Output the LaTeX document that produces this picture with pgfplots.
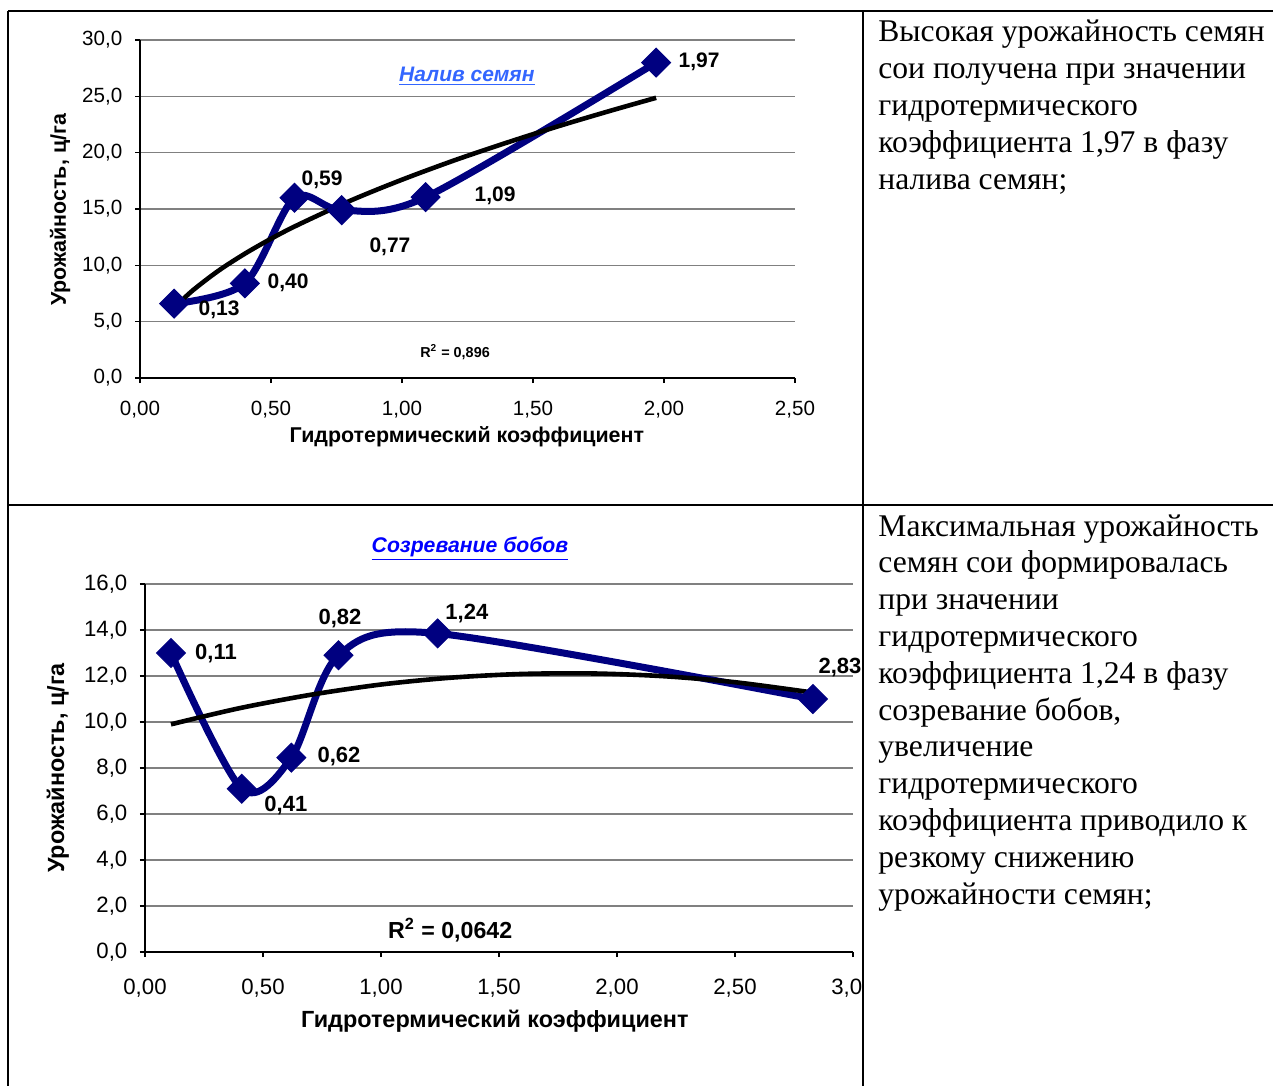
\documentclass[border=0pt]{standalone}
\usepackage{fontspec}
\setmainfont{Liberation Serif}
\newfontfamily\arial{Liberation Sans}
\usepackage{pgfplots}
\pgfplotsset{compat=1.18}
\definecolor{navy}{RGB}{0,0,128}
\definecolor{tonebl}{RGB}{51,102,255}
\definecolor{ttwobl}{RGB}{0,0,255}
\definecolor{gridgray}{RGB}{128,128,128}
\newcommand{\labfont}{\arial\bfseries\fontsize{10.7}{13}\selectfont}
\newcommand{\labfontb}{\arial\bfseries\fontsize{11.7}{13}\selectfont}
\pgfplotsset{excel/.style={
  scale only axis, clip=false,
  axis lines=left, axis line style={-, black, line width=0.75pt},
  ymajorgrids, grid style={gridgray, line width=0.6pt},
  tick align=outside, major tick length=2.5pt, tick style={black, line width=0.75pt},
  /pgf/number format/assume math mode=true,
  tick label style={font=\arial\fontsize{10.3}{12}\selectfont},
  yticklabel style={/pgf/number format/.cd, fixed, fixed zerofill, precision=1, use comma, 1000 sep={}, /tikz/.cd, xshift=-2.8pt},
  xticklabel style={/pgf/number format/.cd, fixed, fixed zerofill, precision=2, use comma, 1000 sep={}, /tikz/.cd, yshift=-5.5pt},
}}
\newcommand{\rtext}{\fontsize{15.8}{18.4}\selectfont}
\begin{document}
\begin{tikzpicture}
\useasboundingbox (0,0) rectangle (636.5pt,-543pt);
% ---------- chart 1 ----------
\begin{axis}[excel, at={(70pt,-189pt)}, anchor=south west, width=327.5pt, height=169pt,
  xmin=0, xmax=2.5, ymin=0, ymax=30,
  xtick={0,0.5,1,1.5,2,2.5}, ytick={0,5,10,15,20,25,30},
  xlabel={Гидротермический коэффициент}, ylabel={Урожайность, ц/га},
  every axis x label/.style={at={(axis description cs:0.499,-0.175)}, anchor=center, font=\labfont},
  every axis y label/.style={at={(axis description cs:-0.122,0.497)}, rotate=90, anchor=center, font=\labfont}]
\addplot[navy, line width=3.5pt, smooth, mark=square*, mark size=5.1pt,
  mark options={rotate=45, solid, fill=navy, draw=navy, line width=0.5pt}]
  coordinates {(0.13,6.6)(0.40,8.4)(0.59,16.0)(0.77,14.9)(1.09,16.05)(1.97,28.0)};
\addplot[black, line width=2.3pt, smooth]
  coordinates {(0.13,6.22)(0.2,7.75)(0.3,9.53)(0.4,11.03)(0.5,12.36)(0.6,13.56)(0.8,15.71)(1.0,17.6)(1.2,19.32)(1.4,20.89)(1.6,22.37)(1.8,23.75)(1.97,24.87)};
\begin{scope}[font=\arial\bfseries\fontsize{10.5}{12}\selectfont]
\node at (axis cs:2.134,28.05) {1,97};
\node at (axis cs:0.695,17.57) {0,59};
\node at (axis cs:1.355,16.15) {1,09};
\node at (axis cs:0.954,11.63) {0,77};
\node at (axis cs:0.565,8.43) {0,40};
\node at (axis cs:0.302,6.04) {0,13};
\end{scope}
\node[font=\arial\bfseries\itshape\fontsize{10.5}{12}\selectfont, text=tonebl] at (axis description cs:0.499,0.893) {\underline{Налив семян}};
\node[font=\arial\bfseries\fontsize{7.2}{8}\selectfont] at (axis description cs:0.481,0.077) {R\textsuperscript{2} = 0,896};
\end{axis}
% ---------- chart 2 ----------
\begin{scope}
\clip (0,0) rectangle (431pt,-543pt);
\begin{axis}[excel, at={(72.5pt,-476pt)}, anchor=south west, width=354pt, height=184pt,
  xmin=0, xmax=3, ymin=0, ymax=16,
  xtick={0,0.5,1,1.5,2,2.5,3}, ytick={0,2,4,6,8,10,12,14,16},
  tick label style={font=\arial\fontsize{11.1}{13}\selectfont},
  xticklabel style={yshift=-2pt},
  xlabel={Гидротермический коэффициент}, ylabel={Урожайность, ц/га},
  every axis x label/.style={at={(axis description cs:0.494,-0.1875)}, anchor=center, font=\labfontb},
  every axis y label/.style={at={(axis description cs:-0.123,0.5)}, rotate=90, anchor=center, font=\labfontb}]
\addplot[navy, line width=3.5pt, smooth, mark=square*, mark size=5.1pt,
  mark options={rotate=45, solid, fill=navy, draw=navy, line width=0.5pt}]
  coordinates {(0.11,13.0)(0.41,7.1)(0.62,8.45)(0.82,12.9)(1.24,13.85)(2.83,11.0)};
\addplot[black, line width=2.3pt, smooth]
  coordinates {(0.11,9.9)(0.4,10.6)(0.7,11.18)(1.0,11.63)(1.3,11.93)(1.6,12.09)(1.9,12.11)(2.2,11.99)(2.5,11.73)(2.83,11.28)};
\begin{scope}[font=\arial\bfseries\fontsize{11}{13}\selectfont]
\node at (axis cs:0.301,12.96) {0,11};
\node at (axis cs:0.597,6.39) {0,41};
\node at (axis cs:0.822,8.48) {0,62};
\node at (axis cs:0.826,14.52) {0,82};
\node at (axis cs:1.364,14.70) {1,24};
\node at (axis cs:2.945,12.35) {2,83};
\end{scope}
\node[font=\arial\bfseries\itshape\fontsize{10.6}{12}\selectfont, text=ttwobl] at (axis description cs:0.459,1.095) {\underline{Созревание бобов}};
\node[font=\arial\bfseries\fontsize{11.6}{13}\selectfont] at (axis description cs:0.431,0.06) {R\textsuperscript{2} = 0,0642};
\end{axis}
\end{scope}
% ---------- table frame ----------
\draw[line width=1pt] (4pt,-5.5pt) -- (636.5pt,-5.5pt);
\draw[line width=1pt] (4pt,-5.5pt) -- (4pt,-543pt);
\draw[line width=1pt] (431.5pt,-5.5pt) -- (431.5pt,-543pt);
\draw[line width=1pt] (4pt,-252.5pt) -- (636.5pt,-252.5pt);
% ---------- right text ----------
\foreach \t [count=\i from 0] in {{Высокая урожайность семян},{сои получена при значении},{гидротермического},{коэффициента 1,97 в фазу},{налива семян;}}
  \node[anchor=base west, inner sep=0pt, font=\rtext] at (439pt,{-21pt-\i*18.4pt}) {\t};
\foreach \t [count=\i from 0] in {{Максимальная урожайность},{семян сои формировалась},{при значении},{гидротермического},{коэффициента 1,24 в фазу},{созревание бобов,},{увеличение},{гидротермического},{коэффициента приводило к},{резкому снижению},{урожайности семян;}}
  \node[anchor=base west, inner sep=0pt, font=\rtext] at (439pt,{-268pt-\i*18.4pt}) {\t};
\end{tikzpicture}
\end{document}
